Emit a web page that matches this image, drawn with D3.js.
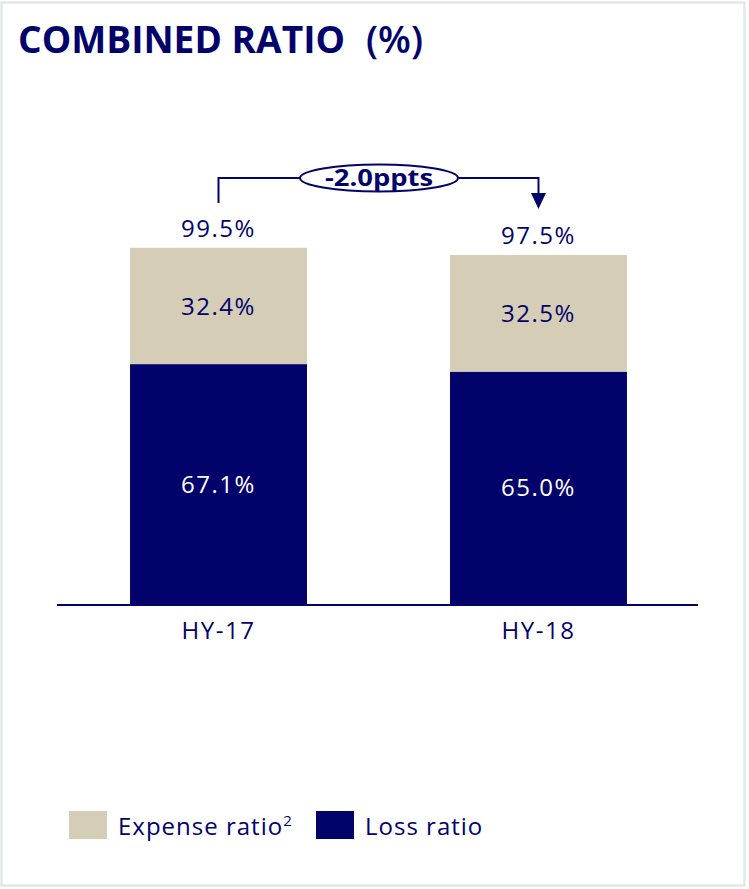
<!DOCTYPE html>
<html lang="en">
<head>
<meta charset="utf-8">
<title>Combined ratio</title>
<script src="https://cdn.jsdelivr.net/npm/d3@7"></script>
<style>
  body { margin: 0; background: #fff; }
  text { font-family: "Open Sans", "Noto Sans", sans-serif; }
</style>
</head>
<body>
<script>
// data
var periods = ["HY-17", "HY-18"];
var lossRatio = [67.1, 65.0];
var expenseRatio = [32.4, 32.5];
var combined = [99.5, 97.5];
var changeLabel = "-2.0ppts";
var seriesNames = ["Expense ratio", "Loss ratio"];

var w = 749, h = 889;
var navy = "#02026b", beige = "#d5cdb6";

var svg = d3.select("body").append("svg")
  .attr("width", w)
  .attr("height", h);

// outer frame
svg.append("rect")
  .attr("x", 1.5).attr("y", 2.5)
  .attr("width", 743).attr("height", 883)
  .attr("fill", "none")
  .attr("stroke", "#e3e8e7")
  .attr("stroke-width", 2.5);

// title
svg.append("text")
  .attr("x", 18).attr("y", 53)
  .attr("fill", navy)
  .attr("textLength", 327)
  .attr("lengthAdjust", "spacingAndGlyphs")
  .style("font-size", "38px")
  .style("font-weight", "bold")
  .text("COMBINED RATIO");
svg.append("text")
  .attr("x", 366).attr("y", 53)
  .attr("fill", navy)
  .attr("textLength", 57)
  .attr("lengthAdjust", "spacingAndGlyphs")
  .style("font-size", "38px")
  .style("font-weight", 600)
  .text("(%)");

var xScale = d3.scaleBand()
  .domain(periods)
  .range([59, 698])
  .paddingInner(0.447)
  .paddingOuter(0.222);

var yScale = d3.scaleLinear()
  .domain([0, 100])
  .range([605, 246]);

var rows = periods.map(function(p, i) {
  return { period: p, loss: lossRatio[i], expense: expenseRatio[i], total: combined[i] };
});

var g = svg.selectAll("g.bar")
  .data(rows)
  .enter().append("g")
  .attr("class", "bar");

g.append("rect")
  .attr("x", function(d) { return xScale(d.period); })
  .attr("width", xScale.bandwidth())
  .attr("y", function(d) { return yScale(d.loss); })
  .attr("height", function(d) { return yScale(0) - yScale(d.loss); })
  .attr("fill", navy);

g.append("rect")
  .attr("x", function(d) { return xScale(d.period); })
  .attr("width", xScale.bandwidth())
  .attr("y", function(d) { return yScale(d.total); })
  .attr("height", function(d) { return yScale(d.loss) - yScale(d.total); })
  .attr("fill", beige);

var cx = function(d) { return xScale(d.period) + xScale.bandwidth() / 2; };

function label(sel) {
  return sel.attr("text-anchor", "middle")
    .style("font-size", "24px")
    .style("letter-spacing", "1.5px");
}

g.append("text")
  .attr("x", cx)
  .attr("y", function(d) { return (yScale(d.loss) + yScale(0)) / 2 + 8; })
  .attr("fill", "#fff")
  .call(label)
  .text(function(d) { return d.loss.toFixed(1) + "%"; });

g.append("text")
  .attr("x", cx)
  .attr("y", function(d) { return (yScale(d.total) + yScale(d.loss)) / 2 + 9; })
  .attr("fill", navy)
  .call(label)
  .text(function(d) { return d.expense.toFixed(1) + "%"; });

g.append("text")
  .attr("x", cx)
  .attr("y", function(d) { return yScale(d.total) - 11; })
  .attr("fill", navy)
  .call(label)
  .text(function(d) { return d.total.toFixed(1) + "%"; });

// baseline + category labels
var xAxis = svg.append("g")
  .attr("transform", "translate(0," + yScale(0) + ")")
  .call(d3.axisBottom(xScale).tickSize(0).tickPadding(17));
xAxis.select(".domain")
  .attr("d", "M57,0H698")
  .attr("stroke", navy)
  .attr("stroke-width", 2);
xAxis.selectAll("text")
  .attr("fill", navy)
  .style("font-size", "24px")
  .style("letter-spacing", "1.5px")
  .style("font-family", "'Open Sans', 'Noto Sans', sans-serif");

// change annotation
var x0 = cx(rows[0]), x1 = cx(rows[1]);
var yTop = 178, ex = 379;
var ann = svg.append("g");
ann.append("path")
  .attr("d", "M" + x0 + "," + (yTop + 25) + "V" + yTop + "H" + x1 + "V" + (yTop + 16))
  .attr("fill", "none")
  .attr("stroke", navy)
  .attr("stroke-width", 2);
ann.append("path")
  .attr("d", "M" + (x1 - 7.5) + "," + (yTop + 15) + "L" + (x1 + 7.5) + "," + (yTop + 15) + "L" + x1 + "," + (yTop + 31) + "Z")
  .attr("fill", navy);
ann.append("ellipse")
  .attr("cx", ex).attr("cy", yTop)
  .attr("rx", 79).attr("ry", 13.5)
  .attr("fill", "#fff")
  .attr("stroke", navy)
  .attr("stroke-width", 2);
ann.append("text")
  .attr("x", ex).attr("y", yTop + 8)
  .attr("text-anchor", "middle")
  .attr("fill", navy)
  .attr("textLength", 108)
  .attr("lengthAdjust", "spacingAndGlyphs")
  .style("font-size", "23px")
  .style("font-weight", "bold")
  .text(changeLabel);

// legend
var legend = svg.append("g").attr("transform", "translate(69,811)");
var items = legend.selectAll("g")
  .data(seriesNames)
  .enter().append("g")
  .attr("transform", function(d, i) { return "translate(" + (i * 247) + ",0)"; });
items.append("rect")
  .attr("width", 38).attr("height", 28)
  .attr("fill", function(d, i) { return i === 0 ? beige : navy; });
var lt = items.append("text")
  .attr("x", 49).attr("y", 24)
  .attr("fill", navy)
  .style("font-size", "24px")
  .style("letter-spacing", "1px")
  .text(function(d) { return d; });
lt.filter(function(d, i) { return i === 0; })
  .append("tspan")
  .attr("dy", -9)
  .style("font-size", "15px")
  .text("2");
</script>
</body>
</html>
